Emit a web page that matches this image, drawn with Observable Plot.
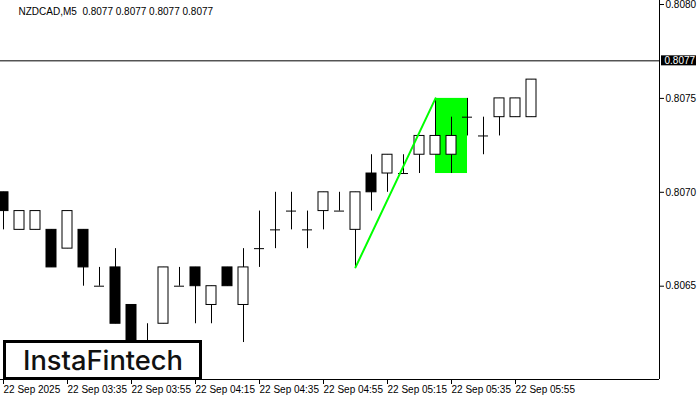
<!DOCTYPE html>
<html><head><meta charset="utf-8">
<script src="https://cdn.jsdelivr.net/npm/d3@7"></script>
<script src="https://cdn.jsdelivr.net/npm/@observablehq/plot@0.6"></script>
<style>
body{margin:0;background:#fff;}
#wrap{position:relative;width:700px;height:400px;overflow:hidden;}
</style></head><body><div id="wrap"></div>
<script>
const symbol = "NZDCAD,M5";
const headerValues = [0.8077, 0.8077, 0.8077, 0.8077];
const times = ["03:15","03:20","03:25","03:30","03:35","03:40","03:45","03:50","03:55","04:00","04:05","04:10","04:15","04:20","04:25","04:30","04:35","04:40","04:45","04:50","04:55","05:00","05:05","05:10","05:15","05:20","05:25","05:30","05:35","05:40","05:45","05:50","05:55","06:00"];
const opens  = [0.8070,0.8068,0.8068,0.8068,0.8067,0.8068,0.8065,0.8066,0.8064,0.8061,0.8063,0.8065,0.8066,0.8064,0.8066,0.8064,0.8067,0.8068,0.8069,0.8068,0.8069,0.8069,0.8068,0.8071,0.8071,0.8071,0.8072,0.8072,0.8072,0.8074,0.8073,0.8074,0.8074,0.8074];
const highs  = [0.8070,0.8069,0.8069,0.8068,0.8069,0.8068,0.8066,0.8067,0.8064,0.8063,0.8066,0.8066,0.8066,0.8065,0.8066,0.8067,0.8069,0.8070,0.8070,0.8069,0.8070,0.8070,0.8070,0.8072,0.8072,0.8072,0.8073,0.8075,0.8074,0.8075,0.8074,0.8075,0.8075,0.8076];
const lows   = [0.8068,0.8068,0.8068,0.8066,0.8067,0.8065,0.8065,0.8063,0.8060,0.8060,0.8063,0.8065,0.8063,0.8063,0.8065,0.8062,0.8066,0.8067,0.8068,0.8067,0.8068,0.8069,0.8066,0.8069,0.8070,0.8071,0.8071,0.8072,0.8071,0.8073,0.8072,0.8073,0.8074,0.8074];
const closes = [0.8069,0.8069,0.8069,0.8066,0.8069,0.8066,0.8065,0.8063,0.8061,0.8062,0.8066,0.8065,0.8065,0.8065,0.8065,0.8066,0.8067,0.8068,0.8069,0.8068,0.8070,0.8069,0.8070,0.8070,0.8072,0.8071,0.8073,0.8073,0.8073,0.8074,0.8073,0.8075,0.8075,0.8076];
const lastPrice = 0.8077;
const priceTicks = [0.8065, 0.8070, 0.8075, 0.8080];
const timeTickIdx = [0, 4, 8, 12, 16, 20, 24, 28, 32];
const timeTickLabels = ["22 Sep 2025","22 Sep 03:35","22 Sep 03:55","22 Sep 04:15","22 Sep 04:35","22 Sep 04:55","22 Sep 05:15","22 Sep 05:35","22 Sep 05:55"];
const poleIdx = [22, 27];
const polePrice = [0.8066, 0.8075];
const flagIdx = [27, 29];
const flagPrice = [0.8071, 0.8075];
const brand = "InstaFintech";

const data = times.map((t, i) => ({i, t, o: opens[i], h: highs[i], l: lows[i], c: closes[i]}));
const bodies = data.filter(d => d.o !== d.c);
const dojis = data.filter(d => d.o === d.c);
const xDomain = [-0.1875, 41];
const yDomain = [0.8060032, 0.8080213];
const pxX = (xDomain[1] - xDomain[0]) / 659;
const pxY = (yDomain[1] - yDomain[0]) / 379;
const hw = 5 * pxX;
const pole = poleIdx.map((x, k) => ({x, y: polePrice[k]}));
const green = "#00ff00";

const chart = Plot.plot({
  width: 700, height: 400,
  marginTop: 0, marginRight: 41, marginBottom: 21, marginLeft: 0,
  style: {fontFamily: "'Liberation Sans', Arial, sans-serif", fontSize: "10px", background: "#fff", overflow: "visible", color: "#000"},
  x: {type: "linear", domain: xDomain},
  y: {type: "linear", domain: yDomain},
  marks: [
    Plot.rect([flagIdx], {x1: d => d[0], x2: d => d[1], y1: () => flagPrice[0], y2: () => flagPrice[1], fill: green}),
    Plot.ruleY([lastPrice], {stroke: "#000"}),
    Plot.ruleX(data, {x: "i", y1: "l", y2: "h", stroke: "#000"}),
    Plot.rect(bodies, {x1: d => d.i - hw, x2: d => d.i + hw, y1: "o", y2: "c", fill: d => d.c > d.o ? "#fff" : "#000", stroke: "#000"}),
    Plot.ruleY(dojis, {y: "o", x1: d => d.i - hw, x2: d => d.i + hw, stroke: "#000"}),
    Plot.line(pole, {x: "x", y: "y", stroke: green, strokeWidth: 2}),
    Plot.ruleX([xDomain[1]], {stroke: "#000"}),
    Plot.ruleY([yDomain[0]], {stroke: "#000"}),
    Plot.axisY(priceTicks, {anchor: "right", tickSize: 4, tickPadding: 2, tickFormat: d => d.toFixed(4), fill: "#000", stroke: "#000"}),
    Plot.axisX(timeTickIdx, {anchor: "bottom", tickSize: 5, tickPadding: 1, textAnchor: "start", tickFormat: d => timeTickLabels[timeTickIdx.indexOf(d)], fill: "#000", stroke: "#000"}),
    Plot.text([symbol + "  " + headerValues.map(v => v.toFixed(4)).join(" ")], {frameAnchor: "top-left", dx: 18, dy: 11, textAnchor: "start", lineAnchor: "middle", fill: "#000"}),
    Plot.rect([lastPrice], {x1: () => xDomain[1] + 2 * pxX, x2: () => xDomain[1] + 37 * pxX, y1: d => d - 5 * pxY, y2: d => d + 5 * pxY, fill: "#000"}),
    Plot.text([lastPrice], {y: d => d, frameAnchor: "right", dx: 5, textAnchor: "start", fill: "#fff", text: d => d.toFixed(4)})
  ]
});
document.getElementById("wrap").appendChild(chart);

// brand logo box
const svg = d3.select(chart);
const logo = svg.append("g");
logo.append("rect").attr("x", 4.5).attr("y", 341.5).attr("width", 196).attr("height", 37).attr("fill", "#fff").attr("stroke", "#000").attr("stroke-width", 3);
logo.append("text").attr("x", 23).attr("y", 360).attr("dy", "0.36em").attr("text-anchor", "start")
  .attr("font-family", "Inter, 'Noto Sans', sans-serif").attr("font-weight", 500).attr("font-size", 27)
  .attr("textLength", 160).attr("lengthAdjust", "spacingAndGlyphs").attr("fill", "#111").text(brand);
</script></body></html>
